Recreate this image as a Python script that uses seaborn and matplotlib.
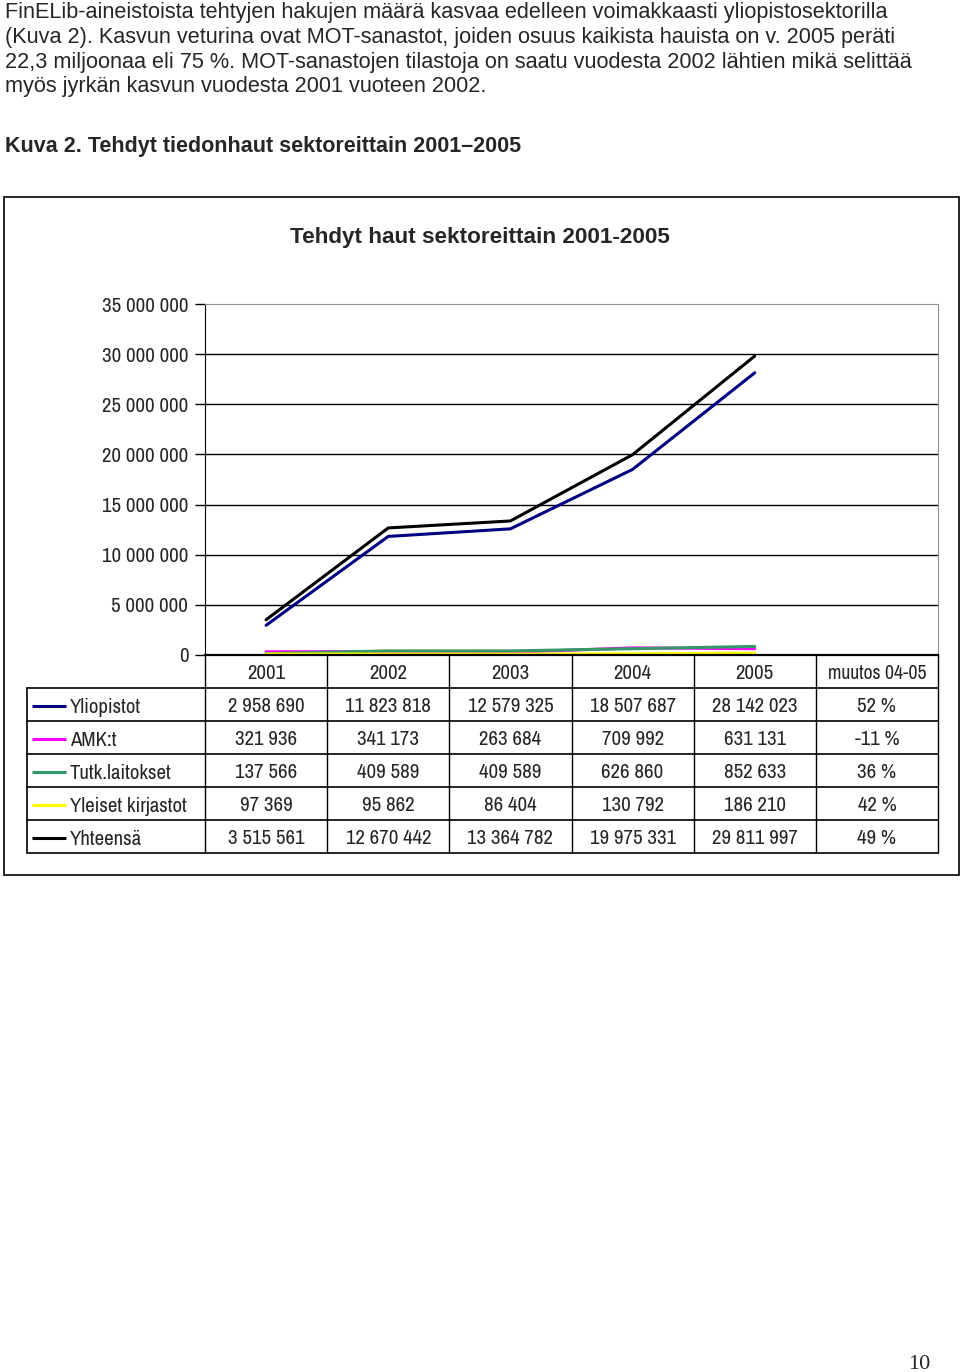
import numpy as np
import pandas as pd
import matplotlib
matplotlib.use('Agg')
import matplotlib.pyplot as plt
from matplotlib import font_manager
from matplotlib.patches import Rectangle
import seaborn as sns

years = ['2001', '2002', '2003', '2004', '2005']
sectors = ['Yliopistot', 'AMK:t', 'Tutk.laitokset', 'Yleiset kirjastot', 'Yhteensä']
yliopistot = [2958690, 11823818, 12579325, 18507687, 28142023]
amk = [321936, 341173, 263684, 709992, 631131]
tutk = [137566, 409589, 409589, 626860, 852633]
yleiset = [97369, 95862, 86404, 130792, 186210]
yhteensa = [3515561, 12670442, 13364782, 19975331, 29811997]
colors = ['#000080', '#FF00FF', '#339966', '#FFFF00', '#000000']
change_label = 'muutos 04-05'
yticks = [0, 5000000, 10000000, 15000000, 20000000, 25000000, 30000000, 35000000]

series = [yliopistot, amk, tutk, yleiset, yhteensa]
df = pd.DataFrame({
    'pos': np.tile(np.arange(len(years)), len(sectors)),
    'value': np.concatenate(series),
    'sector': np.repeat(sectors, len(years)),
})

sns.set_style('white')
plt.rcParams['font.family'] = ['Liberation Sans', 'DejaVu Sans']

# look for a narrow face, otherwise plain Liberation Sans
names = sorted({f.name for f in font_manager.fontManager.ttflist})
narrow_names = [n for n in names if 'Narrow' in n or 'Condensed' in n]
if narrow_names:
    narrow = [narrow_names[0], 'DejaVu Sans']
    nsize = 15
else:
    narrow = ['Liberation Sans', 'DejaVu Sans']
    nsize = 13

W, H = 960, 1372
fig = plt.figure(figsize=(W / 100, H / 100), dpi=100)


def fx(x):
    return x / W


def fy(y):
    return 1 - y / H


def spaced(v):
    return f'{v:,}'.replace(',', ' ')


# page text
body = [
    'FinELib-aineistoista tehtyjen hakujen määrä kasvaa edelleen voimakkaasti yliopistosektorilla',
    '(Kuva 2). Kasvun veturina ovat MOT-sanastot, joiden osuus kaikista hauista on v. 2005 peräti',
    '22,3 miljoonaa eli 75 %. MOT-sanastojen tilastoja on saatu vuodesta 2002 lähtien mikä selittää',
    'myös jyrkän kasvun vuodesta 2001 vuoteen 2002.',
]
for i, line in enumerate(body):
    fig.text(fx(5), fy(18 + i * 24.8), line, fontsize=15.6, va='baseline', ha='left')
fig.text(fx(5), fy(152), 'Kuva 2. Tehdyt tiedonhaut sektoreittain 2001–2005',
         fontsize=15.5, fontweight='bold', va='baseline')
fig.text(fx(930), fy(1369), '10', fontsize=16, family='Liberation Serif',
         ha='right', va='baseline')

# chart frame
fig.patches.append(Rectangle((fx(4), fy(875)), fx(955), 678 / H, transform=fig.transFigure,
                             fill=False, edgecolor='black', linewidth=1.2))
fig.text(fx(480), fy(237), 'Tehdyt haut sektoreittain 2001-2005', fontsize=16.2,
         fontweight='bold', ha='center', va='center')

# plot area
ax = fig.add_axes([fx(205), fy(655), fx(733), 351 / H])
sns.lineplot(data=df, x='pos', y='value', hue='sector', hue_order=sectors,
             palette=colors, legend=False, linewidth=2.2, ax=ax)
ax.set_xlim(-0.5, len(years) + 0.5)
ax.set_ylim(0, 35000000)
ax.set_yticks(yticks)
ax.set_yticklabels([spaced(t) for t in yticks], family=narrow, fontsize=nsize)
ax.set_xticks([])
ax.set_xlabel('')
ax.set_ylabel('')
for t in yticks[1:-1]:
    ax.axhline(t, color='black', linewidth=1, zorder=0)
ax.tick_params(axis='y', direction='out', length=7, width=1, color='black', pad=5, left=True)
ax.spines['left'].set_color('black')
ax.spines['bottom'].set_color('black')
ax.spines['bottom'].set_linewidth(1.6)
ax.spines['top'].set_color('#909090')
ax.spines['right'].set_color('#909090')

# data table under the chart
colw = 733 / 6
xmin = -0.5 - 178 / colw
tab = fig.add_axes([fx(27), fy(853), fx(911), 198 / H])
tab.set_xlim(xmin, len(years) + 0.5)
tab.set_ylim(len(sectors) + 1, 0)
tab.axis('off')
ncol = len(years) + 1
for k in range(ncol + 1):
    tab.plot([k - 0.5, k - 0.5], [0, len(sectors) + 1], color='black', lw=1,
             clip_on=False, solid_capstyle='butt')
tab.plot([xmin, xmin], [1, len(sectors) + 1], color='black', lw=1.2, clip_on=False)
for r in range(1, len(sectors) + 2):
    tab.plot([xmin, len(years) + 0.5], [r, r], color='black', lw=1.2, clip_on=False)

for j, y in enumerate(years):
    tab.text(j, 0.55, y, ha='center', va='center', family=narrow, fontsize=nsize)
tab.text(len(years), 0.55, change_label, ha='center', va='center', family=narrow,
         fontsize=nsize - 0.8)

for i, (name, vals, c) in enumerate(zip(sectors, series, colors)):
    yc = i + 1.55
    tab.plot([xmin + 5 / colw, xmin + 39 / colw], [yc, yc], color=c, lw=2.2,
             solid_capstyle='butt')
    tab.text(xmin + 43 / colw, yc + 0.04, name, ha='left', va='center', family=narrow,
             fontsize=nsize)
    for j, v in enumerate(vals):
        tab.text(j, yc, spaced(v), ha='center', va='center', family=narrow, fontsize=nsize)
    pct = round((vals[-1] / vals[-2] - 1) * 100)
    tab.text(len(years), yc, f'{pct} %', ha='center', va='center', family=narrow, fontsize=nsize)

fig.savefig('out.png', dpi=100)
